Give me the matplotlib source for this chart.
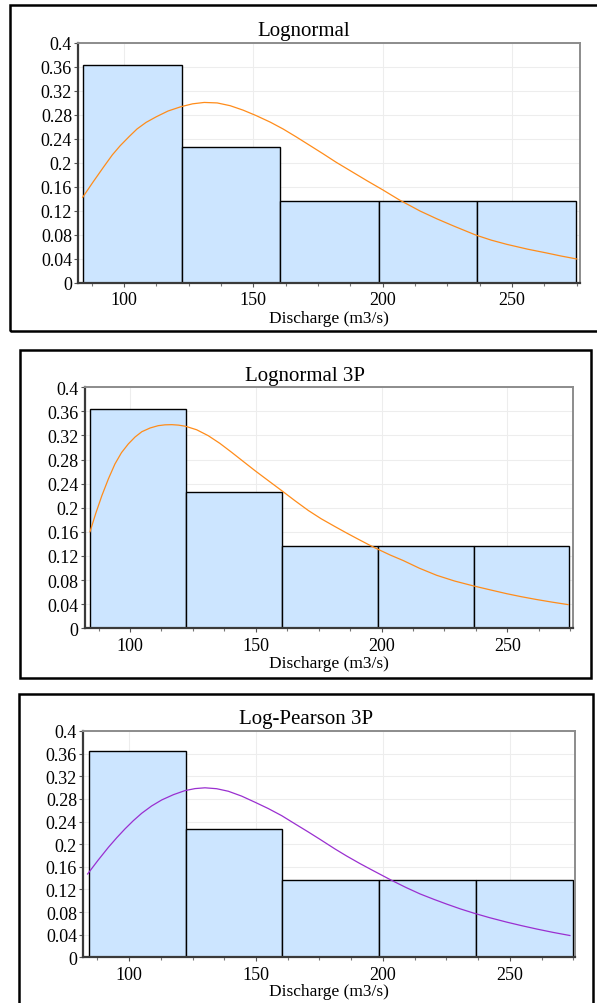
import numpy as np
import matplotlib
matplotlib.use("Agg")
import matplotlib.pyplot as plt
from matplotlib.patches import Rectangle
from matplotlib.ticker import MultipleLocator, FixedLocator, FuncFormatter

# ---------------- data ----------------
bin_edges = [84.2, 122.3, 160.4, 198.5, 236.6, 274.7]
freq = [0.364, 0.227, 0.136, 0.136, 0.136]

titles = ["Lognormal", "Lognormal 3P", "Log-Pearson 3P"]
x_label = "Discharge (m3/s)"
x_ticks = [100, 150, 200, 250]
y_ticks = [0, 0.04, 0.08, 0.12, 0.16, 0.2, 0.24, 0.28, 0.32, 0.36, 0.4]

# fitted density curves
ln_x = [84.0, 88.0, 92.0, 95.5, 98.5, 102.0, 105.0, 108.5, 112.5, 117.0, 122.0, 126.5,
        131.0, 136.0, 141.0, 146.0, 151.0, 156.5, 161.5, 166.5, 172.0, 177.0, 182.0,
        188.5, 194.0, 200.0, 206.5, 214.5, 221.0, 227.5, 236.0, 242.0, 248.0, 256.0,
        263.5, 269.0, 275.0]
ln_y = [0.1425, 0.1680, 0.1926, 0.2135, 0.2286, 0.2440, 0.2565, 0.2675, 0.2770, 0.2865,
        0.2937, 0.2985, 0.3008, 0.3000, 0.2954, 0.2880, 0.2790, 0.2680, 0.2565, 0.2435,
        0.2286, 0.2150, 0.2010, 0.1842, 0.1700, 0.1550, 0.1380, 0.1195, 0.1065, 0.0945,
        0.0795, 0.0710, 0.0640, 0.0560, 0.0495, 0.0445, 0.0396]

ln3_x = [84.1, 86.4, 88.8, 91.4, 94.0, 96.6, 99.3, 102.0, 104.7, 108.0, 111.2, 113.9,
         116.6, 119.3, 122.1, 126.5, 131.1, 135.7, 140.4, 145.0, 149.7, 155.0, 160.3,
         165.5, 170.9, 176.0, 181.5, 186.1, 190.8, 195.4, 198.3, 203.5, 208.6, 215.0,
         221.9, 229.0, 236.2, 243.0, 249.7, 255.5, 261.6, 268.0, 274.2]
ln3_y = [0.1604, 0.1910, 0.2201, 0.2480, 0.2727, 0.2915, 0.3059, 0.3175, 0.3263, 0.3325,
         0.3363, 0.3377, 0.3380, 0.3372, 0.3353, 0.3295, 0.3197, 0.3070, 0.2921, 0.2770,
         0.2616, 0.2450, 0.2285, 0.2120, 0.1955, 0.1818, 0.1688, 0.1582, 0.1477, 0.1377,
         0.1317, 0.1215, 0.1125, 0.0998, 0.0880, 0.0785, 0.0707, 0.0640, 0.0575, 0.0525,
         0.0478, 0.0433, 0.0393]

lp_x = [83.7, 87.8, 91.9, 95.2, 98.4, 101.7, 105.0, 108.9, 112.9, 117.5, 122.0, 126.0,
        129.9, 134.5, 139.1, 144.3, 149.6, 154.8, 160.1, 165.3, 170.6, 175.2, 181.1,
        185.7, 191.0, 196.2, 203.4, 209.0, 214.6, 220.0, 225.1, 230.5, 235.8, 242.0,
        248.7, 254.5, 260.5, 267.0, 273.6]
lp_y = [0.1473, 0.1715, 0.1945, 0.2115, 0.2269, 0.2415, 0.2546, 0.2675, 0.2782, 0.2875,
        0.2946, 0.2982, 0.2996, 0.2980, 0.2935, 0.2850, 0.2741, 0.2630, 0.2504, 0.2360,
        0.2215, 0.2085, 0.1915, 0.1790, 0.1655, 0.1530, 0.1360, 0.1235, 0.1120, 0.1025,
        0.0940, 0.0855, 0.0780, 0.0700, 0.0622, 0.0560, 0.0500, 0.0440, 0.0385]

curves = [(ln_x, ln_y, "#FF8C1A"), (ln3_x, ln3_y, "#FF8C1A"), (lp_x, lp_y, "#9A2FD0")]

# ---------------- layout (pixels) ----------------
W, H = 597, 1004
plt.rcParams['font.family'] = ['Liberation Serif', 'DejaVu Serif']

fig = plt.figure(figsize=(W / 100, H / 100), dpi=100)

def fx(x):
    return x / W

def fy(y):
    return 1 - y / H

# axes: left, right, top, bottom ; xlim
axes_px = [
    (78.3, 580.0, 44.0, 283.7, (82.3, 276.3)),
    (85.0, 572.7, 388.3, 629.3, (82.1, 276.0)),
    (83.3, 575.0, 732.0, 958.3, (82.0, 275.6)),
]
frames = [(10, 6, 600, 332), (20, 351, 590.5, 678.5), (19, 695, 593, 1010)]
title_pos = [(303.5, 35.7), (305, 380.7), (306, 724.3)]
xlabel_base = [322.7, 668.3, 996.0]

for i in range(3):
    L, R, T, B, xl = axes_px[i]
    ax = fig.add_axes([fx(L), fy(B), (R - L) / W, (B - T) / H])
    ax.set_xlim(*xl)
    ax.set_ylim(0, 0.4)

    ax.bar(bin_edges[:-1], freq, width=np.diff(bin_edges), align='edge',
           color='#CCE5FF', edgecolor='black', linewidth=1.0, zorder=2)
    cx, cy, col = curves[i]
    ax.plot(cx, cy, color=col, linewidth=0.9, zorder=3, solid_joinstyle='round')

    ax.xaxis.set_major_locator(FixedLocator(x_ticks))
    ax.xaxis.set_minor_locator(MultipleLocator(12.5))
    ax.yaxis.set_major_locator(FixedLocator(y_ticks))
    ax.yaxis.set_major_formatter(FuncFormatter(lambda v, p: "%g" % round(v, 2)))
    ax.grid(True, which='major', color='#EDEDED', linewidth=0.8, zorder=0)
    ax.set_axisbelow(True)

    ax.tick_params(axis='both', which='major', labelsize=13, length=3, width=0.8,
                   color='#555555', labelcolor='black')
    ax.tick_params(axis='y', pad=1.5)
    ax.tick_params(axis='x', pad=3)
    ax.tick_params(axis='x', which='minor', length=2.5, width=0.8, color='#777777')

    for s in ['left', 'bottom']:
        ax.spines[s].set_color('#3A3A3A')
        ax.spines[s].set_linewidth(1.6)
    for s in ['top', 'right']:
        ax.spines[s].set_color('#8C8C8C')
        ax.spines[s].set_linewidth(1.4)

    # titles and x label
    tx, ty = title_pos[i]
    fig.text(fx(tx), fy(ty), titles[i], ha='center', va='baseline', fontsize=15)
    fig.text(fx((L + R) / 2), fy(xlabel_base[i]), x_label, ha='center', va='baseline', fontsize=12.5)

    # panel frame
    x0, y0, x1, y1 = frames[i]
    fig.patches.append(Rectangle((fx(x0), fy(y1)), (x1 - x0) / W, (y1 - y0) / H,
                                 transform=fig.transFigure, fill=False,
                                 edgecolor='black', linewidth=1.8, zorder=5))

fig.savefig("out.png", dpi=100)
